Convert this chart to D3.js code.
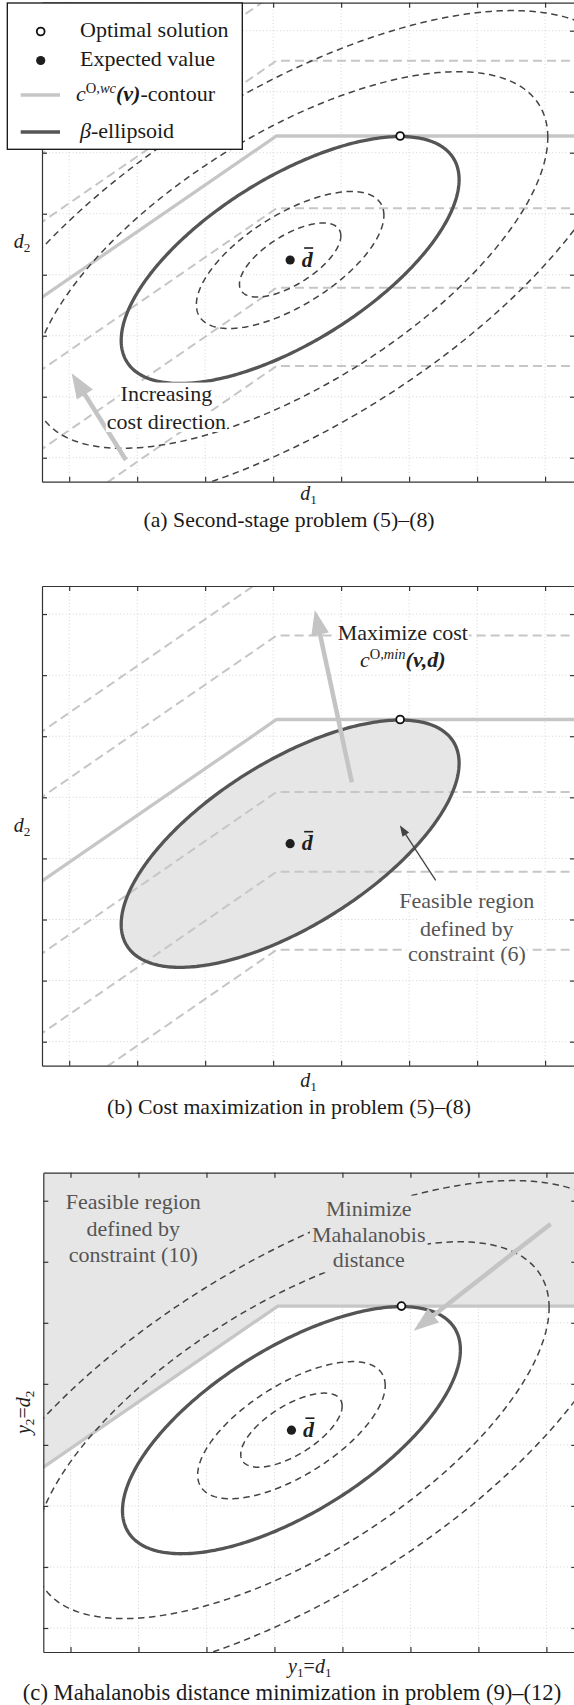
<!DOCTYPE html>
<html><head><meta charset="utf-8">
<script src="https://cdn.jsdelivr.net/npm/d3@7"></script>
<style>
body{margin:0;background:#fff;}
svg{display:block;}
</style></head><body>
<svg id="fig" width="574" height="1705"></svg>
<script>
// ================= DATA =================
const xTicks = [0, 1, 2, 3, 4, 5, 6, 7];
const yTicks = [0, 1, 2, 3, 4, 5, 6, 7];
const xDomain = [-0.4, 7.44];
const yDomain = [-0.393, 7.459];
const expectedValue = [3.25, 3.241];
const covariance = [[6.176, 3.275], [3.275, 4.097]];
const betaLevel = 1.0;
const mahalanobisLevels = [0.3, 0.555, 1.525, 2.02];
const optimalSolution = [4.868, 5.274];
const contourKinkX = 3.05;
const contourSlope = 0.766;
const contourSolidLevel = 5.274;
const contourLevelsA = [7.625, 6.508, 4.089, 2.787, 1.503];
const contourLevelsB = [7.72, 6.648, 4.087, 2.782, 1.503];
const arrowA = [[0.834, -0.038], [0.036, 1.384]];
const arrowB = [[4.157, 4.246], [3.613, 7.066]];
const pointerB = [[5.391, 2.639], [4.863, 3.541]];
const arrowC = [[7.063, 6.62], [5.049, 4.87]];
const captions = [
  "(a) Second-stage problem (5)\u2013(8)",
  "(b) Cost maximization in problem (5)\u2013(8)",
  "(c) Mahalanobis distance minimization in problem (9)\u2013(12)"
];
const legendLabels = ["Optimal solution", "Expected value", "c-contour", "\u03b2-ellipsoid"];

// ================= STYLE / LAYOUT =================
const FONT = '"Liberation Serif","Times New Roman",Times,serif';
const FS = 22;
const DARK = "#555555";
const LIGHT = "#c6c6c6";
const FILL = "#e6e6e6";
const svg = d3.select("#fig");

const panels = [
  {id: "a", left: 42, right: 575, top: 2.7, bottom: 481.7, capDy: 45.5, capFs: 21.8, capX: 289, xlDy: 18},
  {id: "b", left: 42, right: 575, top: 586, bottom: 1065.7, capDy: 48, capFs: 21.8, capX: 289, xlDy: 21},
  {id: "c", left: 43.3, right: 576.3, top: 1172.7, bottom: 1652, capDy: 48, capFs: 22.6, capX: 292, xlDy: 21}
];

// rich text helper: parts {t, i, b, sup, sub}
function rich(textSel, parts, size) {
  let cur = 0;
  parts.forEach(p => {
    const want = p.sup ? -0.36 * size : (p.sub ? 0.2 * size : 0);
    const ts = textSel.append("tspan").text(p.t)
      .attr("font-size", (p.sup || p.sub) ? size * 0.66 : size)
      .attr("font-style", p.i ? "italic" : "normal")
      .attr("font-weight", p.b ? "bold" : "normal");
    if (want !== cur) ts.attr("dy", want - cur);
    cur = want;
  });
}

function ellipsePts(level) {
  const L11 = Math.sqrt(covariance[0][0]);
  const L21 = covariance[1][0] / L11;
  const L22 = Math.sqrt(covariance[1][1] - L21 * L21);
  return d3.range(0, 361).map(k => {
    const t = k * Math.PI / 180;
    const u = Math.cos(t), v = Math.sin(t);
    return [expectedValue[0] + level * L11 * u, expectedValue[1] + level * (L21 * u + L22 * v)];
  });
}

function contourPts(level) {
  const x0 = xDomain[0] - 6, x1 = xDomain[1] + 2;
  return [[x0, level - contourSlope * (contourKinkX - x0)], [contourKinkX, level], [x1, level]];
}

function drawArrow(g, tail, tip, o) {
  const dx = tip[0] - tail[0], dy = tip[1] - tail[1];
  const len = Math.hypot(dx, dy), ux = dx / len, uy = dy / len;
  const bx = tip[0] - ux * o.headLen, by = tip[1] - uy * o.headLen;
  g.append("line").attr("x1", tail[0]).attr("y1", tail[1])
    .attr("x2", bx + ux * 3).attr("y2", by + uy * 3)
    .attr("stroke", o.color).attr("stroke-width", o.width);
  const px = -uy, py = ux;
  g.append("path")
    .attr("d", `M${tip[0]},${tip[1]}L${bx + px * o.headW},${by + py * o.headW}L${bx - px * o.headW},${by - py * o.headW}Z`)
    .attr("fill", o.color);
}

function textBlock(g, lines, cx, cy, o) {
  const grp = g.append("g");
  const bgG = grp.append("g");
  const nodes = [];
  lines.forEach((ln, i) => {
    const t = grp.append("text").attr("x", cx).attr("y", cy + o.dys[i] + 0.33 * FS)
      .attr("text-anchor", "middle").attr("font-family", FONT).attr("font-size", FS)
      .attr("fill", o.color);
    if (typeof ln === "string") t.text(ln); else rich(t, ln, FS);
    nodes.push(t.node());
  });
  if (o.bg) {
    if (o.single) {
      let bb = nodes.map(n => n.getBBox());
      const x0 = d3.min(bb, b => b.x), x1 = d3.max(bb, b => b.x + b.width);
      const y0 = d3.min(bb, b => b.y), y1 = d3.max(bb, b => b.y + b.height);
      bgG.append("rect").attr("x", x0 - 2).attr("y", y0).attr("width", x1 - x0 + 4)
        .attr("height", y1 - y0).attr("fill", o.bg);
    } else {
      nodes.forEach(n => {
        const b = n.getBBox();
        bgG.append("rect").attr("x", b.x - 1).attr("y", b.y + 2).attr("width", b.width + 2)
          .attr("height", b.height - 4).attr("fill", o.bg);
      });
    }
  }
}

panels.forEach((p, pi) => {
  const x = d3.scaleLinear().domain(xDomain).range([p.left, p.right]);
  const y = d3.scaleLinear().domain(yDomain).range([p.bottom, p.top]);
  const line = d3.line().x(d => x(d[0])).y(d => y(d[1]));
  const g = svg.append("g");
  const clipId = "clip" + p.id;
  g.append("clipPath").attr("id", clipId).append("rect")
    .attr("x", p.left).attr("y", p.top).attr("width", p.right - p.left).attr("height", p.bottom - p.top);

  // grid
  const grid = g.append("g").attr("stroke", "#cfcfcf").attr("stroke-width", 0.9).attr("stroke-dasharray", "1,2.4");
  xTicks.forEach(t => grid.append("line").attr("x1", x(t)).attr("x2", x(t)).attr("y1", p.top).attr("y2", p.bottom));
  yTicks.forEach(t => grid.append("line").attr("y1", y(t)).attr("y2", y(t)).attr("x1", p.left).attr("x2", p.right));

  const plot = g.append("g").attr("clip-path", `url(#${clipId})`);

  if (p.id === "c") {
    const c = contourPts(contourSolidLevel);
    const region = [c[0], c[1], c[2], [c[2][0], yDomain[1] + 1], [c[0][0], yDomain[1] + 1]];
    plot.append("path").attr("d", line(region) + "Z").attr("fill", FILL);
  }
  if (p.id === "b") {
    plot.append("path").attr("d", line(ellipsePts(betaLevel)) + "Z").attr("fill", FILL);
  }
  if (p.id !== "c") {
    const lv = p.id === "a" ? contourLevelsA : contourLevelsB;
    lv.forEach(l => plot.append("path").attr("d", line(contourPts(l))).attr("fill", "none")
      .attr("stroke", LIGHT).attr("stroke-width", 2).attr("stroke-dasharray", "9,5"));
  }
  plot.append("path").attr("d", line(contourPts(contourSolidLevel))).attr("fill", "none")
    .attr("stroke", LIGHT).attr("stroke-width", 3.3);

  if (p.id !== "b") {
    mahalanobisLevels.forEach(l => plot.append("path").attr("d", line(ellipsePts(l)) + "Z")
      .attr("fill", "none").attr("stroke", "#444").attr("stroke-width", 1.5).attr("stroke-dasharray", "6.5,4.5"));
  }
  plot.append("path").attr("d", line(ellipsePts(betaLevel)) + "Z").attr("fill", "none")
    .attr("stroke", DARK).attr("stroke-width", 3.3);

  const P = d => [x(d[0]), y(d[1])];
  if (p.id === "a") {
    drawArrow(plot, P(arrowA[0]), P(arrowA[1]), {color: "#c4c4c4", width: 4.5, headLen: 25, headW: 9.5});
    textBlock(plot, ["Increasing", "cost direction"], x(1.43), y(1.056), {dys: [0, 28.4], color: "#222", bg: "#fff"});
  }
  if (p.id === "b") {
    drawArrow(plot, P(arrowB[0]), P(arrowB[1]), {color: "#c4c4c4", width: 4.5, headLen: 25, headW: 9});
    drawArrow(plot, P(pointerB[0]), P(pointerB[1]), {color: "#444", width: 1.3, headLen: 11, headW: 4});
    textBlock(plot, ["Maximize cost",
      [{t: "c", i: 1}, {t: "O", sup: 1}, {t: ",", sup: 1}, {t: "min", sup: 1, i: 1}, {t: "(v,d)", i: 1, b: 1}]],
      x(4.907), y(6.693), {dys: [0, 27.3], color: "#222", bg: "#fff"});
    textBlock(plot, ["Feasible region", "defined by", "constraint (6)"], x(5.849), y(2.30),
      {dys: [0, 27.6, 52.6], color: "#555", bg: "#fff"});
  }
  if (p.id === "c") {
    drawArrow(plot, P(arrowC[0]), P(arrowC[1]), {color: "#c4c4c4", width: 4.5, headLen: 25, headW: 9});
    textBlock(plot, ["Feasible region", "defined by", "constraint (10)"], x(0.924), y(6.984),
      {dys: [0, 26.6, 53.3], color: "#555"});
    textBlock(plot, ["Minimize", "Mahalanobis", "distance"], x(4.387), y(6.875),
      {dys: [0, 26.7, 51.7], color: "#555", bg: FILL, single: true});
  }

  // expected value marker + label
  const ev = P(expectedValue);
  g.append("circle").attr("cx", ev[0]).attr("cy", ev[1]).attr("r", 4.6).attr("fill", "#1e1e1e");
  const dl = g.append("text").attr("x", ev[0] + 11.5).attr("y", ev[1] + 6.5)
    .attr("font-family", FONT).attr("font-size", FS).attr("font-style", "italic").attr("font-weight", "bold")
    .attr("fill", "#1e1e1e").text("d");
  const db = dl.node().getBBox();
  g.append("line").attr("x1", db.x + 2.5).attr("x2", db.x + db.width - 0.5)
    .attr("y1", db.y + 1.5).attr("y2", db.y + 1.5).attr("stroke", "#1e1e1e").attr("stroke-width", 1.6);

  // optimal solution
  const op = P(optimalSolution);
  g.append("circle").attr("cx", op[0]).attr("cy", op[1]).attr("r", 3.9)
    .attr("fill", "#fff").attr("stroke", "#111").attr("stroke-width", 1.8);

  // axes (frame + inward ticks)
  const ax = g.append("g");
  const mk = (axis, tx, ty) => {
    const a = ax.append("g").attr("transform", `translate(${tx},${ty})`)
      .call(axis.tickSize(-5).tickSizeOuter(0).tickFormat(""));
    a.selectAll("path,line").attr("stroke", "#333").attr("stroke-width", 1.2);
  };
  mk(d3.axisBottom(x).tickValues(xTicks), 0, p.bottom);
  mk(d3.axisTop(x).tickValues(xTicks), 0, p.top);
  mk(d3.axisLeft(y).tickValues(yTicks), p.left, 0);
  mk(d3.axisRight(y).tickValues(yTicks), p.right, 0);

  // axis labels
  const cx = (p.left + p.right) / 2, cy = (p.top + p.bottom) / 2;
  const xl = g.append("text").attr("x", cx).attr("y", p.bottom + p.xlDy).attr("text-anchor", "middle")
    .attr("font-family", FONT).attr("font-size", 20).attr("fill", "#222");
  const yl = g.append("text").attr("font-family", FONT).attr("font-size", 20).attr("fill", "#222")
    .attr("text-anchor", "middle");
  if (p.id === "c") {
    rich(xl, [{t: "y", i: 1}, {t: "1", sub: 1}, {t: "="}, {t: "d", i: 1}, {t: "1", sub: 1}], 20);
    yl.attr("transform", `translate(${p.left - 13},${cy}) rotate(-90)`);
    rich(yl, [{t: "y", i: 1}, {t: "2", sub: 1}, {t: "="}, {t: "d", i: 1}, {t: "2", sub: 1}], 20);
  } else {
    rich(xl, [{t: "d", i: 1}, {t: "1", sub: 1}], 20);
    yl.attr("x", p.left - 20).attr("y", cy + 6);
    rich(yl, [{t: "d", i: 1}, {t: "2", sub: 1}], 20);
  }

  // caption
  svg.append("text").attr("x", p.capX).attr("y", p.bottom + p.capDy).attr("text-anchor", "middle")
    .attr("font-family", FONT).attr("font-size", p.capFs).attr("fill", "#1a1a1a").text(captions[pi]);

  // legend in panel (a)
  if (p.id === "a") {
    const lg = svg.append("g");
    lg.append("rect").attr("x", 7.3).attr("y", 3).attr("width", 235).attr("height", 146.3)
      .attr("fill", "#fff").attr("stroke", "#111").attr("stroke-width", 1.3);
    const rowsY = [31.5, 60.5, 95, 132];
    lg.append("circle").attr("cx", 40.7).attr("cy", rowsY[0]).attr("r", 3.9).attr("fill", "#fff")
      .attr("stroke", "#111").attr("stroke-width", 1.8);
    lg.append("circle").attr("cx", 40.7).attr("cy", rowsY[1]).attr("r", 4.6).attr("fill", "#1e1e1e");
    lg.append("line").attr("x1", 20.7).attr("x2", 60).attr("y1", rowsY[2]).attr("y2", rowsY[2])
      .attr("stroke", LIGHT).attr("stroke-width", 3.3);
    lg.append("line").attr("x1", 20.7).attr("x2", 60).attr("y1", rowsY[3]).attr("y2", rowsY[3])
      .attr("stroke", DARK).attr("stroke-width", 3.6);
    const partsList = [
      [{t: legendLabels[0]}],
      [{t: legendLabels[1]}],
      [{t: "c", i: 1}, {t: "O", sup: 1}, {t: ",", sup: 1}, {t: "wc", sup: 1, i: 1}, {t: "(v)", i: 1, b: 1}, {t: "-contour"}],
      [{t: "\u03b2", i: 1}, {t: "-ellipsoid"}]
    ];
    const startX = [80, 80, 76, 80];
    partsList.forEach((parts, i) => {
      const t = lg.append("text").attr("x", startX[i]).attr("y", rowsY[i] + 5.5)
        .attr("font-family", FONT).attr("font-size", FS).attr("fill", "#1a1a1a");
      rich(t, parts, FS);
    });
  }
});
</script>
</body></html>
